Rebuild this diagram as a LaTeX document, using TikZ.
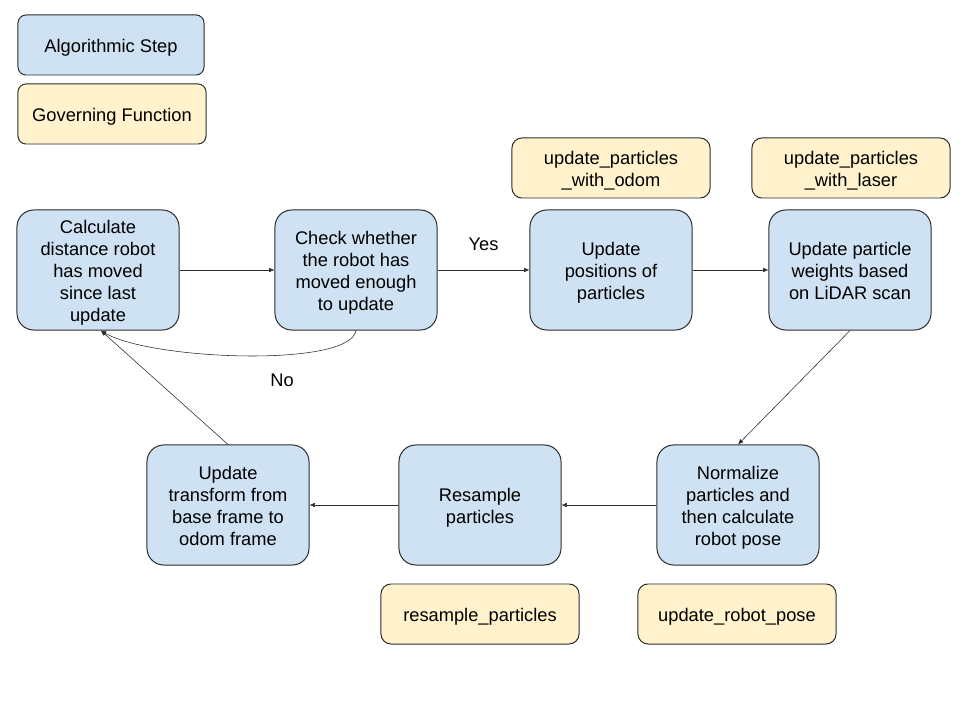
\documentclass[tikz,border=0pt]{standalone}
\usepackage{fontspec}
\setmainfont{Liberation Sans}
\usetikzlibrary{arrows.meta}

\definecolor{stepblue}{HTML}{CFE2F3}
\definecolor{funcyellow}{HTML}{FFF2CC}
\definecolor{edgegray}{HTML}{2B2B2B}

% strut to push box text down a little
\newcommand{\topstrut}{\rule{0pt}{13.6pt}}
\newcommand{\botstrut}{\rule[-3pt]{0pt}{0pt}}

\tikzset{
	stepbox/.style={draw=edgegray, fill=stepblue, line width=0.7pt, rounded corners=0.42cm,
		minimum width=4.05cm, minimum height=3cm, align=center, inner sep=2pt},
	funcbox/.style={draw=edgegray, fill=funcyellow, line width=0.7pt, rounded corners=0.25cm,
		minimum width=4.95cm, minimum height=1.5cm, align=center, inner sep=2pt},
	legendbox/.style={draw=edgegray, line width=0.7pt, rounded corners=0.2cm,
		minimum height=1.5cm, align=center},
	>={Latex[length=3.8pt, width=3.2pt]}
}

\begin{document}
\begin{tikzpicture}[x=0.025cm, y=-0.025cm, font=\fontsize{13}{15.6}\selectfont]
\useasboundingbox[fill=white] (0,0) rectangle (960,720);

% legend
\node[legendbox, fill=stepblue, minimum width=4.65cm] (legstep) at (111,45) {\topstrut Algorithmic Step\botstrut};
\node[legendbox, fill=funcyellow, minimum width=4.7cm] (legfunc) at (112,114) {\topstrut Governing Function\botstrut};

% steps
\node[stepbox] (calc) at (98,270) {\topstrut Calculate\\distance robot\\has moved\\since last\\update\botstrut};
\node[stepbox] (check) at (356,270) {\topstrut Check whether\\the robot has\\moved enough\\to update\botstrut};
\node[stepbox] (move) at (611,270) {\topstrut Update\\positions of\\particles\botstrut};
\node[stepbox] (weigh) at (850,270) {\topstrut Update particle\\weights based\\on LiDAR scan\botstrut};
\node[stepbox] (norm) at (738,505) {\topstrut Normalize\\particles and\\then calculate\\robot pose\botstrut};
\node[stepbox] (resamp) at (480,505) {\topstrut Resample\\particles\botstrut};
\node[stepbox] (trans) at (228,505) {\topstrut Update\\transform from\\base frame to\\odom frame\botstrut};

% functions
\node[funcbox] (fodom) at (611,168) {\topstrut update\_particles\\\_with\_odom\botstrut};
\node[funcbox] (flaser) at (851,168) {\topstrut update\_particles\\\_with\_laser\botstrut};
\node[funcbox] (fresamp) at (480,614) {\topstrut resample\_particles\botstrut};
\node[funcbox] (fpose) at (737,614) {\topstrut update\_robot\_pose\botstrut};

% flow
\draw[->, edgegray] (calc) -- (check);
\draw[->, edgegray] (check) -- node[above=10pt, text=black] (yes) {Yes} (move);
\draw[->, edgegray] (move) -- (weigh);
\draw[->, edgegray] (weigh.south) -- (norm.north);
\draw[->, edgegray] (norm) -- (resamp);
\draw[->, edgegray] (resamp) -- (trans);
\draw[->, edgegray] (trans.north) -- ([xshift=2]calc.south);
\draw[->, edgegray] (check.south) .. controls (350,368) and (150,360) .. ([xshift=2]calc.south);
\node (no) at (282,380) {No};
\end{tikzpicture}
\end{document}
